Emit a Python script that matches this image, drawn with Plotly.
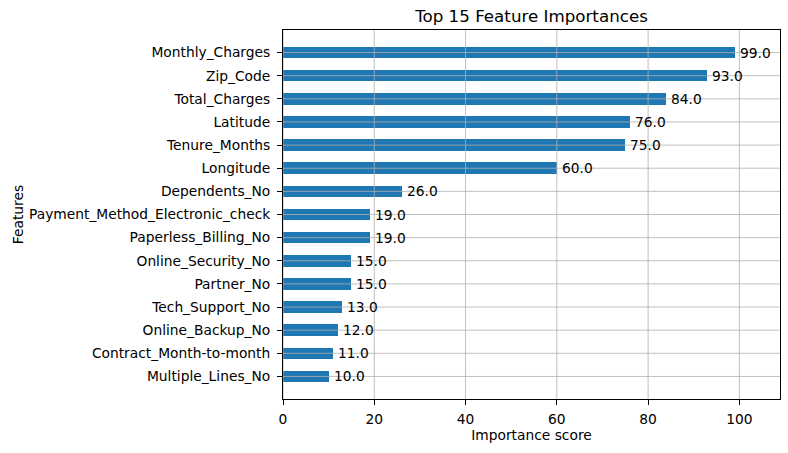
import plotly.graph_objects as go

features = ["Monthly_Charges", "Zip_Code", "Total_Charges", "Latitude", "Tenure_Months",
            "Longitude", "Dependents_No", "Payment_Method_Electronic_check",
            "Paperless_Billing_No", "Online_Security_No", "Partner_No", "Tech_Support_No",
            "Online_Backup_No", "Contract_Month-to-month", "Multiple_Lines_No"]
scores = [99, 93, 84, 76, 75, 60, 26, 19, 19, 15, 15, 13, 12, 11, 10]
x_ticks = [0, 20, 40, 60, 80, 100]

font = "DejaVu Sans"
fs = 13.8
fig = go.Figure(go.Bar(
    x=scores, y=features, orientation="h", width=0.5,
    marker=dict(color="#1f77b4", line=dict(width=0)),
))

annotations = [dict(x=v, y=f, xref="x", yref="y", text=f"{v:.1f}", showarrow=False,
                    xanchor="left", yanchor="middle", xshift=3,
                    font=dict(family=font, size=fs, color="black"))
               for f, v in zip(features, scores)]

shapes = []
for t in x_ticks:
    shapes.append(dict(type="line", xref="x", yref="paper", x0=t, x1=t, y0=0, y1=1,
                       line=dict(color="#b0b0b0", width=0.8), layer="above"))
for f in features:
    shapes.append(dict(type="line", xref="paper", yref="y", x0=0, x1=1, y0=f, y1=f,
                       line=dict(color="#b0b0b0", width=0.8), layer="above"))

fig.update_layout(
    width=788, height=453,
    margin=dict(l=283, r=8, t=30, b=54),
    paper_bgcolor="white", plot_bgcolor="white",
    font=dict(family=font, size=fs, color="black"),
    title=dict(text="Top 15 Feature Importances", x=(283 + 780) / 2 / 788, xanchor="center",
               y=1 - 16 / 453, yanchor="middle", font=dict(size=16.7, color="black")),
    showlegend=False,
    shapes=shapes,
    annotations=annotations,
    bargap=0,
)
fig.update_xaxes(range=[0, 108.9], tickvals=x_ticks, showgrid=False, zeroline=False,
                 ticks="outside", ticklen=5, tickwidth=1, tickcolor="black",
                 showline=True, linecolor="black", linewidth=1, mirror=True,
                 automargin=False, ticklabelstandoff=2,
                 title=dict(text="Importance score", font=dict(size=fs), standoff=3),
                 tickfont=dict(size=fs))
fig.update_yaxes(categoryorder="array", categoryarray=features, range=[14.975, -0.975],
                 showgrid=False, zeroline=False,
                 ticks="outside", ticklen=5, tickwidth=1, tickcolor="black",
                 showline=True, linecolor="black", linewidth=1, mirror=True,
                 automargin=False, ticklabelstandoff=4,
                 title=dict(text="Features", font=dict(size=fs), standoff=2),
                 tickfont=dict(size=fs))

fig.write_html("out.html", config={"displayModeBar": False},
               post_script="document.body.style.margin='0';document.body.style.padding='0';")
